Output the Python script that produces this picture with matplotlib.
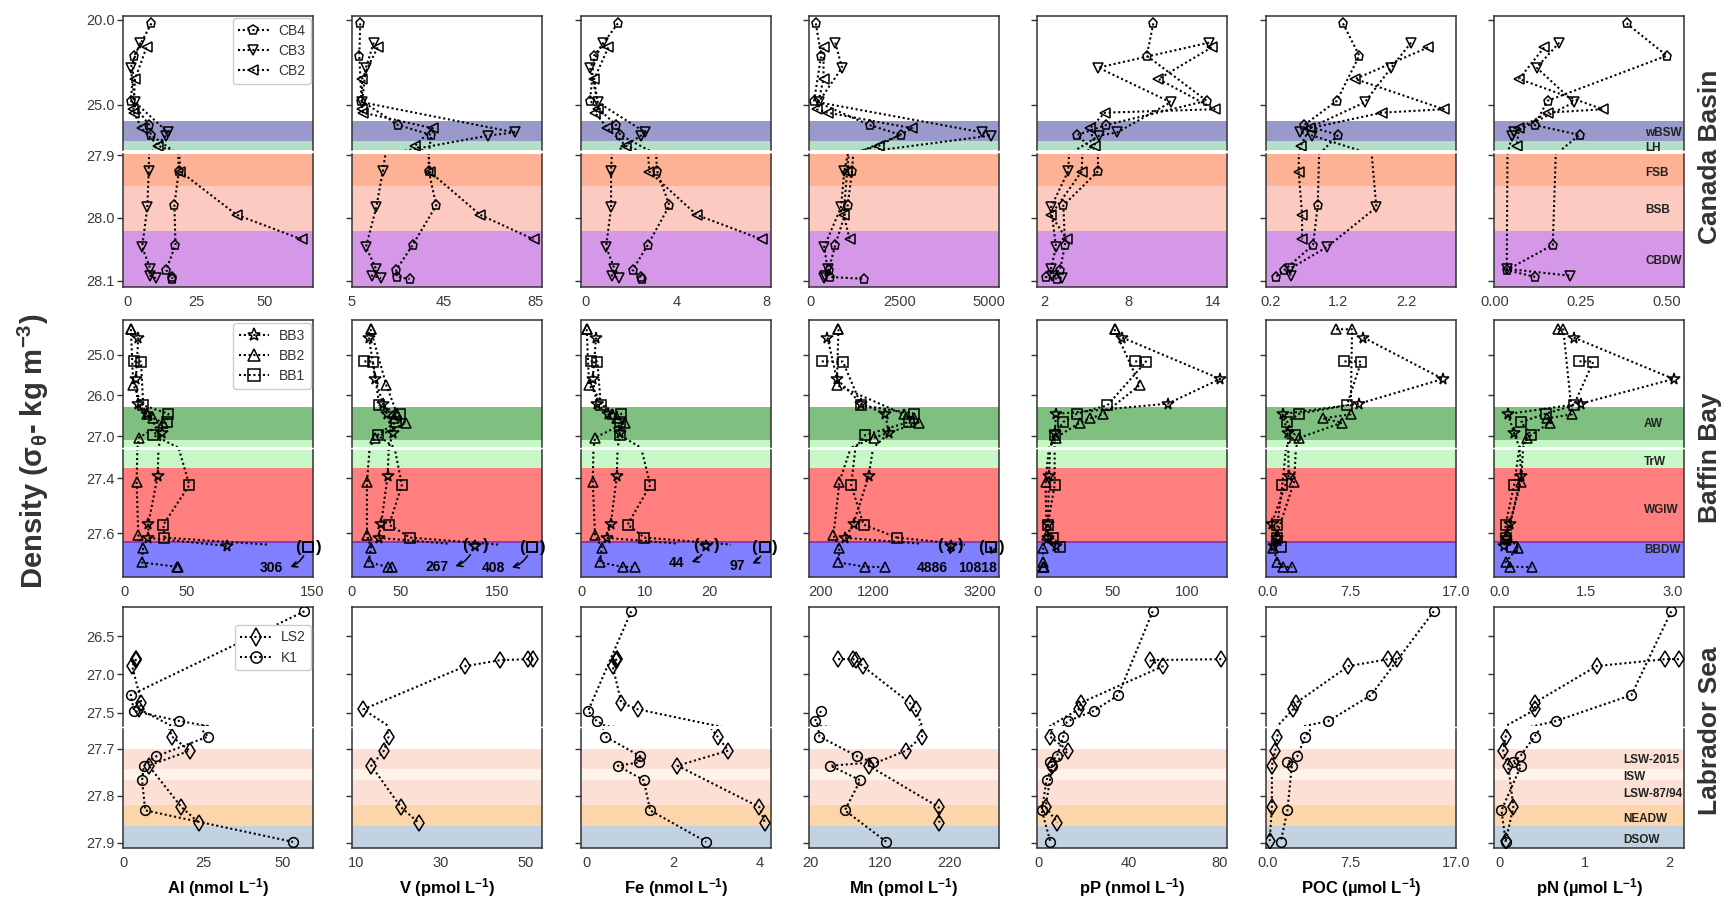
import numpy as np
import matplotlib
matplotlib.use('Agg')
import matplotlib.pyplot as plt

plt.rcParams['font.family'] = ['Liberation Sans', 'DejaVu Sans']
plt.rcParams['mathtext.fontset'] = 'custom'
plt.rcParams['mathtext.rm'] = 'Liberation Sans'
plt.rcParams['mathtext.it'] = 'Liberation Sans:italic'
plt.rcParams['mathtext.bf'] = 'Liberation Sans:bold'

params = ['Al', 'V', 'Fe', 'Mn', 'pP', 'POC', 'pN']
xlabels = ['Al (nmol L$^{\\mathbf{-1}}$)', 'V (pmol L$^{\\mathbf{-1}}$)', 'Fe (nmol L$^{\\mathbf{-1}}$)',
           'Mn (pmol L$^{\\mathbf{-1}}$)', 'pP (nmol L$^{\\mathbf{-1}}$)', 'POC (µmol L$^{\\mathbf{-1}}$)',
           'pN (µmol L$^{\\mathbf{-1}}$)']

# ---------------- Canada Basin (density, then Al V Fe Mn pP POC pN) ----------------
cb4_sig = [20.20, 22.10, 24.75, 26.18, 26.76, 27.925, 27.980, 28.043, 28.083, 28.094, 28.097]
cb3_sig = [21.33, 22.80, 24.84, 26.61, 26.80, 27.925, 27.983, 28.046, 28.081, 28.092, 28.096]
cb2_sig = [21.61, 23.47, 25.25, 25.45, 26.37, 27.39, 27.926, 27.995, 28.034]

cb4_al = [8.7, 2.4, 1.2, 7.9, 8.5, 18.7, 17.1, 17.5, 14.1, 16.3, 16.3]
cb3_al = [4.7, 1.1, 2.7, 14.7, 14.0, 7.7, 7.2, 5.3, 8.3, 8.3, 10.3]
cb2_al = [6.9, 2.7, 2.1, 2.3, 5.1, 11.1, 19.3, 39.9, 63.6]
cb4_v = [8.6, 8.2, 9.1, 25.1, 39.6, 38.5, 41.8, 31.5, 24.3, 24.6, 30.2]
cb3_v = [14.5, 11.1, 9.4, 76.0, 64.6, 18.5, 15.6, 11.1, 15.5, 13.7, 17.7]
cb2_v = [16.2, 9.4, 9.4, 9.8, 40.3, 32.6, 38.9, 61.0, 84.3]
cb4_fe = [1.41, 0.36, 0.18, 1.33, 1.51, 3.14, 3.69, 2.73, 2.06, 2.43, 2.47]
cb3_fe = [0.77, 0.18, 0.52, 2.62, 2.43, 1.11, 1.11, 0.89, 1.26, 1.14, 1.47]
cb2_fe = [0.99, 0.36, 0.55, 0.40, 0.95, 1.76, 2.80, 4.89, 7.76]
cb4_mn = [142, 292, 94, 1651, 2528, 1160, 1038, 689, 500, 547, 1490]
cb3_mn = [689, 877, 217, 4811, 5057, 943, 849, 377, 472, 406, 377]
cb2_mn = [358, 358, 170, 472, 2858, 1915, 1019, 925, 1094]
cb4_pp = [9.74, 9.27, 13.53, 6.38, 4.34, 5.83, 3.35, 3.47, 3.11, 2.09, 2.92]
cb3_pp = [13.70, 5.83, 10.97, 7.18, 5.90, 3.70, 2.47, 2.83, 2.47, 2.52, 3.23]
cb2_pp = [13.88, 10.10, 14.10, 6.30, 5.24, 5.60, 4.65, 2.47, 3.59]
cb4_poc = [1.27, 1.51, 1.18, 0.70, 1.20, None, 0.90, 0.83, 0.41, 0.28, None]
cb3_poc = [2.27, 1.98, 1.59, 0.64, 0.82, None, 1.76, 1.04, 0.49, 0.50, None]
cb2_poc = [2.52, 1.45, 2.75, 1.84, 0.78, 0.65, 0.62, 0.67, 0.67]
cb4_pn = [0.383, 0.500, 0.153, 0.115, 0.246, None, None, 0.168, 0.034, 0.117, None]
cb3_pn = [0.187, 0.121, 0.230, 0.055, 0.050, None, None, None, 0.034, 0.218, None]
cb2_pn = [0.143, 0.070, 0.313, 0.153, 0.070, 0.063, None, None, None]

# ---------------- Baffin Bay ----------------
bb3_sig = [24.572, 25.593, 26.202, 26.457, 26.934, 27.392, 27.564, 27.616, 27.645]
bb2_sig = [24.366, 24.370, 25.741, 26.465, 26.564, 26.671, 27.041, 27.412, 27.606, 27.651, 27.705, 27.721, 27.722]
bb1_sig = [25.160, 25.165, 26.243, 26.449, 26.654, 26.975, 27.424, 27.568, 27.615, 27.650]

bb3_al = [11.2, 9.4, 10.7, 17.9, 29.9, 26.7, 19.3, 19.3, 82.0]
bb2_al = [5.3, 5.3, 7.2, 17.9, 23.3, 31.3, 11.8, 9.9, 11.2, 15.2, 13.9, 42.5, 43.3]
bb1_al = [8.0, 13.4, 15.2, 35.3, 34.0, 23.3, 52.1, 31.3, 32.1, 306.0]
bb3_v = [17.6, 24.1, 32.1, 36.2, 42.4, 36.9, 30.3, 27.6, 267.0]
bb2_v = [19.3, 19.3, 35.5, 46.9, 43.1, 56.2, 24.0, 15.5, 15.5, 19.7, 17.2, 36.9, 41.4]
bb1_v = [12.8, 21.7, 28.3, 50.0, 45.5, 26.6, 51.7, 38.6, 60.3, 408.0]
bb3_fe = [2.36, 1.83, 2.46, 4.29, 6.13, 5.60, 4.66, 4.03, 44.0]
bb2_fe = [0.89, 0.89, 1.26, 4.80, 5.60, 6.90, 2.20, 1.83, 2.20, 3.25, 2.98, 6.50, 8.50]
bb1_fe = [1.52, 2.57, 3.09, 6.28, 6.02, 6.02, 10.84, 7.28, 9.90, 97.0]
bb3_mn = [327, 504, 966, 1422, 1485, 1105, 820, 662, 4886]
bb2_mn = [535, 535, 504, 1770, 1960, 2054, 1200, 554, 440, 554, 535, 1042, 1421]
bb1_mn = [219, 618, 966, 1972, 1865, 1042, 776, 1010, 1643, 10818]
bb3_pp = [56.4, 122.1, 86.9, 12.2, 11.2, 7.4, 6.7, 6.7, 12.2]
bb2_pp = [51.3, 51.3, 68.3, 43.6, 34.6, 28.0, 12.0, 5.1, 5.8, 3.5, 3.5, 3.5, 4.2]
bb1_pp = [65.1, 72.4, 46.5, 26.0, 17.0, 11.2, 11.2, 6.7, 9.9, 14.7]
bb3_poc = [8.66, 15.82, 8.28, 1.38, 1.81, 1.90, 0.39, 0.82, 0.60]
bb2_poc = [6.20, 7.63, None, 7.50, 5.00, 6.72, 2.89, 2.41, 0.82, 0.52, 0.90, 1.38, 2.24]
bb1_poc = [6.94, 8.45, 7.16, 2.89, 1.77, 2.46, 1.34, 0.90, 0.90, 1.25]
bb3_pn = [1.28, 3.01, 1.40, 0.14, 0.25, 0.37, 0.18, 0.10, 0.08]
bb2_pn = [1.00, 1.10, None, 1.25, 0.82, 0.87, 0.47, 0.37, 0.12, 0.31, 0.10, 0.18, 0.55]
bb1_pn = [1.38, 1.62, 1.28, 0.80, 0.37, 0.54, 0.25, 0.10, 0.10, 0.21]

# ---------------- Labrador Sea ----------------
ls2_sig = [26.800, 26.800, 26.813, 26.891, 27.370, 27.457, 27.674, 27.704, 27.736, 27.824, 27.857, 27.896]
k1_sig = [26.174, 27.270, 27.478, 27.609, 27.674, 27.716, 27.729, 27.736, 27.767, 27.831, 27.898]

ls2_al = [4.0, 4.0, 3.8, 2.7, 5.6, 5.0, 15.2, 20.8, 7.9, 18.2, 23.7, None]
k1_al = [57.0, 2.2, 3.3, 17.6, 26.6, 10.3, None, 6.4, 5.8, 6.8, 53.4]
ls2_v = [51.8, 50.5, 44.0, 35.8, None, 11.6, 17.6, 16.5, 13.5, 20.5, 24.7, None]
k1_v = [None, None, None, None, None, None, None, None, None, None, None]
ls2_fe = [0.70, 0.70, 0.67, 0.60, 0.80, 1.19, 3.03, 3.28, 2.10, 4.00, 4.13, None]
k1_fe = [1.03, None, 0.03, 0.23, 0.43, 1.24, 1.22, 0.72, 1.32, 1.47, 2.77]
ls2_mn = [60, 81.3, 85.8, 95.5, 163, 171.6, 181, 158, 104, 205, 206, None]
k1_mn = [None, None, 35.5, 26.5, 33, 87.7, 110, 49, 92, 69.7, 129.7]
ls2_pp = [80.6, None, 49.0, 54.9, 18.8, 17.7, 5.1, 13.1, 6.1, 3.2, 8.4, None]
k1_pp = [50.4, 35.2, 24.3, 13.1, 11.0, 8.2, 5.3, 6.1, 3.6, 1.5, 5.3]
ls2_poc = [11.7, 10.9, None, 7.3, 2.6, 2.3, 0.9, 0.7, 0.4, 0.4, None, 0.2]
k1_poc = [15.0, 9.35, None, 5.5, 3.4, 2.7, 1.8, 2.2, None, 1.8, 1.2]
ls2_pn = [2.11, 1.95, None, 1.14, 0.41, 0.42, 0.07, 0.04, 0.10, 0.16, None, 0.07]
k1_pn = [2.02, 1.55, None, 0.66, 0.41, 0.24, 0.15, 0.25, None, 0.02, 0.07]

# table built from the lists above
stations = {
    'CB4': (cb4_sig, [cb4_al, cb4_v, cb4_fe, cb4_mn, cb4_pp, cb4_poc, cb4_pn]),
    'CB3': (cb3_sig, [cb3_al, cb3_v, cb3_fe, cb3_mn, cb3_pp, cb3_poc, cb3_pn]),
    'CB2': (cb2_sig, [cb2_al, cb2_v, cb2_fe, cb2_mn, cb2_pp, cb2_poc, cb2_pn]),
    'BB3': (bb3_sig, [bb3_al, bb3_v, bb3_fe, bb3_mn, bb3_pp, bb3_poc, bb3_pn]),
    'BB2': (bb2_sig, [bb2_al, bb2_v, bb2_fe, bb2_mn, bb2_pp, bb2_poc, bb2_pn]),
    'BB1': (bb1_sig, [bb1_al, bb1_v, bb1_fe, bb1_mn, bb1_pp, bb1_poc, bb1_pn]),
    'LS2': (ls2_sig, [ls2_al, ls2_v, ls2_fe, ls2_mn, ls2_pp, ls2_poc, ls2_pn]),
    'K1': (k1_sig, [k1_al, k1_v, k1_fe, k1_mn, k1_pp, k1_poc, k1_pn]),
}

G = (0, 0.5, 0, 0.5)
regions = [
    dict(name='Canada Basin', label_y=157,
         st=[('CB4', 'p', 6.5), ('CB3', 'v', 6.5), ('CB2', '<', 6.5)],
         px=(16, 150, 154, 287), yl_up=(27.647, 19.765), yl_lo=(28.110, 27.898),
         yt_up=[20.0, 25.0], yt_lo=[27.9, 28.0, 28.1],
         bands=[(25.94, 27.10, '#9999cc'), (27.10, 27.80, '#b2e0c6'), (27.80, 27.949, '#fdb195'),
                (27.949, 28.02, '#fdcac2'), (28.02, 28.2, '#d597e8')],
         names=[('wBSW', 26.63, 0), ('LH', 27.55, 0), ('FSB', 27.929, 1), ('BSB', 27.988, 1), ('CBDW', 28.069, 1)],
         name_x=0.795, leg_y=0.985,
         xlim=[(-1.7, 67.8), (5, 88), (-0.22, 8.18), (-50, 5290), (1.48, 14.97), (0.14, 2.93), (-0.003, 0.55)],
         xt=[[0, 25, 50], [5, 45, 85], [0, 4, 8], [0, 2500, 5000], [2, 8, 14], [0.2, 1.2, 2.2], [0, 0.25, 0.5]],
         xtl=[['0', '25', '50'], ['5', '45', '85'], ['0', '4', '8'], ['0', '2500', '5000'], ['2', '8', '14'],
              ['0.2', '1.2', '2.2'], ['0.00', '0.25', '0.50']]),
    dict(name='Baffin Bay', label_y=458,
         st=[('BB3', '*', 8.5), ('BB2', '^', 7.5), ('BB1', 's', 7.5)],
         px=(320, 447, 450, 577), yl_up=(27.27, 24.14), yl_lo=(27.758, 27.297),
         yt_up=[25.0, 26.0, 27.0], yt_lo=[27.4, 27.6],
         bands=[(26.29, 27.10, G), (27.10, 27.361, (0.565, 0.933, 0.565, 0.5)),
                (27.361, 27.636, (1, 0, 0, 0.5)), (27.627, 27.9, (0, 0, 1, 0.5))],
         names=[('AW', 26.70, 0), ('TrW', 27.339, 1), ('WGIW', 27.515, 1), ('BBDW', 27.661, 1)],
         name_x=0.79, leg_y=0.975,
         xlim=[(-1, 151), (0, 197), (0, 29.7), (-22, 3570), (-0.6, 126.6), (-0.13, 17.0), (-0.1, 3.19)],
         xt=[[0, 50, 150], [0, 50, 150], [0, 10, 20], [200, 1200, 3200], [0, 50, 100], [0, 7.5, 17], [0, 1.5, 3]],
         xtl=[['0', '50', '150'], ['0', '50', '150'], ['0', '10', '20'], ['200', '1200', '3200'],
              ['0', '50', '100'], ['0.0', '7.5', '17.0'], ['0.0', '1.5', '3.0']]),
    dict(name='Labrador Sea', label_y=731,
         st=[('LS2', 'd', 8), ('K1', 'o', 7)],
         px=(607, 726, 729, 848), yl_up=(27.674, 26.118), yl_lo=(27.911, 27.658),
         yt_up=[26.5, 27.0, 27.5], yt_lo=[27.7, 27.8, 27.9],
         bands=[(27.70, 27.742, '#fce0d6'), (27.742, 27.766, '#fdf3e8'), (27.766, 27.819, '#fce0d6'),
                (27.819, 27.865, '#fdd5ab'), (27.865, 28.0, '#c2d2e0')],
         names=[('LSW-2015', 27.723, 1), ('ISW', 27.759, 1), ('LSW-87/94', 27.797, 1),
                ('NEADW', 27.849, 1), ('DSOW', 27.894, 1)],
         name_x=0.68, leg_y=0.85,
         xlim=[(-0.2, 59.7), (8.95, 53.9), (-0.134, 4.27), (18, 292), (-0.6, 83.1), (-0.13, 17.0), (-0.068, 2.17)],
         xt=[[0, 25, 50], [10, 30, 50], [0, 2, 4], [20, 120, 220], [0, 40, 80], [0, 7.5, 17], [0, 1, 2]],
         xtl=[['0', '25', '50'], ['10', '30', '50'], ['0', '2', '4'], ['20', '120', '220'], ['0', '40', '80'],
              ['0.0', '7.5', '17.0'], ['0', '1', '2']]),
]

# off-scale points: (marker x as axes fraction, label x as axes fraction, label density)
offscale = {
    ('Al', 'BB1'): (0.974, 0.783, 27.727),
    ('V', 'BB3'): (0.648, 0.447, 27.721),
    ('V', 'BB1'): (0.949, 0.744, 27.725),
    ('Fe', 'BB3'): (0.660, 0.505, 27.707),
    ('Fe', 'BB1'): (0.966, 0.825, 27.718),
    ('Mn', 'BB3'): (0.746, 0.649, 27.727),
    ('Mn', 'BB1'): (0.960, 0.888, 27.727),
}

W, H = 1730, 898
col_left = [123, 352, 581, 809, 1037, 1266, 1494]
col_w = 190
DOT = (0, (1, 1.3))

fig = plt.figure(figsize=(W / 100, H / 100), dpi=100)


def px_axes(x0, y0, y1):
    return fig.add_axes([x0 / W, 1 - y1 / H, col_w / W, (y1 - y0) / H])


def style(ax, lower, first, reg, j):
    for sp in ax.spines.values():
        sp.set_color('#333333')
        sp.set_linewidth(1.1)
    if lower:
        ax.spines['top'].set_visible(False)
        ax.set_ylim(*reg['yl_lo'])
        ax.set_yticks(reg['yt_lo'])
        ax.set_xticks(reg['xt'][j])
        ax.set_xticklabels(reg['xtl'][j])
    else:
        ax.spines['bottom'].set_visible(False)
        ax.set_ylim(*reg['yl_up'])
        ax.set_yticks(reg['yt_up'])
        ax.set_xticks([])
    ax.set_xlim(*reg['xlim'][j])
    ax.tick_params(axis='y', length=4, width=1, color='#333333', pad=2, labelsize=10.5, labelcolor='#3a3a3a')
    ax.tick_params(axis='x', length=0, pad=6, labelsize=10.5, labelcolor='#3a3a3a')
    if first:
        ax.set_yticklabels(['%.1f' % t for t in ax.get_yticks()])
    else:
        ax.set_yticklabels([])


def marks(ax, x, y, yl, mk, ms, mew=1.1):
    lo, hi = min(yl), max(yl)
    x, y = np.asarray(x, float), np.asarray(y, float)
    inr = (y > lo + 0.002 * (hi - lo)) & (y < hi - 0.002 * (hi - lo))
    ax.plot(x[inr], y[inr], marker=mk, ms=ms, mfc='none', mec='k', mew=mew, ls='none', zorder=4)


def draw(ax, lower, reg, j, st, mk, ms):
    yl = reg['yl_lo'] if lower else reg['yl_up']
    sig, allv = stations[st]
    s = np.array(sig, float)
    v = np.array([np.nan if x is None else x for x in allv[j]], float)
    ok = ~np.isnan(v)
    s, v = s[ok], v[ok]
    # legend proxy
    ax.plot([], [], color='k', ls=DOT, lw=1.5, marker=mk, ms=ms, mfc='none', mec='k', mew=1.1, label=st)
    if len(v) == 0:
        return
    x0, x1 = reg['xlim'][j]
    off = offscale.get((params[j], st))
    if off is not None and v[-1] > x1:
        fm, ft, yt = off
        xm = x0 + fm * (x1 - x0)
        ax.plot(v[:-1], s[:-1], color='k', lw=1.5, ls=DOT, zorder=3)
        marks(ax, v[:-1], s[:-1], yl, mk, ms)
        ax.plot([v[-2], v[-2] + 0.72 * (xm - v[-2])], [s[-2], s[-2] + 0.72 * (s[-1] - s[-2])],
                color='k', lw=1.5, ls=DOT, zorder=3)
        marks(ax, [xm], [s[-1]], yl, mk, ms, mew=1.3)
        if lower:
            for dx, ch in ((-7.5, '('), (7.5, ')')):
                ax.annotate(ch, (xm, s[-1]), xytext=(dx, 0), textcoords='offset points',
                            ha='center', va='center', fontsize=12, fontweight='bold')
            xt = x0 + ft * (x1 - x0)
            ax.annotate('%d' % round(v[-1]), xy=(xm, s[-1]), xytext=(xt, yt), ha='center', va='center',
                        fontsize=10, fontweight='bold', zorder=5,
                        arrowprops=dict(arrowstyle='<-', color='k', lw=1.1, shrinkA=3, shrinkB=7,
                                        connectionstyle='arc3,rad=0.4'))
    else:
        ax.plot(v, s, color='k', lw=1.5, ls=DOT, zorder=3)
        marks(ax, v, s, yl, mk, ms)


for reg in regions:
    yu0, yu1, yl0, yl1 = reg['px']
    for j in range(7):
        axu = px_axes(col_left[j], yu0, yu1)
        axl = px_axes(col_left[j], yl0, yl1)
        for lower, ax in ((False, axu), (True, axl)):
            for b0, b1, c in reg['bands']:
                ax.axhspan(b0, b1, color=c, lw=0, zorder=0)
            for st, mk, ms in reg['st']:
                draw(ax, lower, reg, j, st, mk, ms)
            style(ax, lower, j == 0, reg, j)
            if j == 6:
                for nm, y, part in reg['names']:
                    if part == int(lower):
                        ax.text(reg['name_x'], y, nm, transform=ax.get_yaxis_transform(),
                                ha='left', va='center', fontsize=8.5, fontweight='bold', color='#222222',
                                clip_on=False, zorder=6)
        if j == 0:
            leg = axu.legend(loc='upper right', bbox_to_anchor=(0.99, reg['leg_y']), borderaxespad=0,
                             fontsize=10, handlelength=2.2, markerscale=1.15, frameon=True, fancybox=True,
                             framealpha=1, edgecolor='#cccccc', labelcolor='#333333',
                             borderpad=0.4, labelspacing=0.45, handletextpad=0.7)
            leg.set_zorder(10)
        if reg['name'] == 'Labrador Sea':
            axl.set_xlabel(xlabels[j], fontsize=12, fontweight='bold', labelpad=4)
    fig.text(1710 / W, 1 - reg['label_y'] / H, reg['name'], rotation=90, ha='center', va='center',
             fontsize=19, fontweight='bold', color='#333333')

fig.text(33 / W, 1 - 451 / H, 'Density (σ$_{\\mathbf{\\theta}}$- kg m$^{\\mathbf{-3}}$)', rotation=90,
         ha='center', va='center', fontsize=21, fontweight='bold', color='#333333')

fig.savefig('out.png', dpi=100)
